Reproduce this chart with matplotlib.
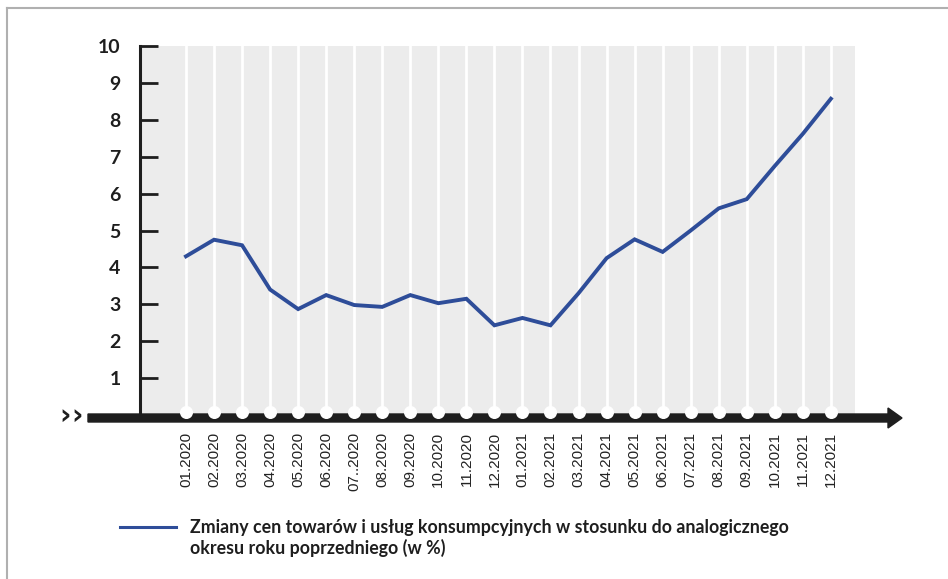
import matplotlib.pyplot as plt
import matplotlib.patches as mpatches
from matplotlib.lines import Line2D

months = ["01.2020", "02.2020", "03.2020", "04.2020", "05.2020", "06.2020",
          "07..2020", "08.2020", "09.2020", "10.2020", "11.2020", "12.2020",
          "01.2021", "02.2021", "03.2021", "04.2021", "05.2021", "06.2021",
          "07.2021", "08.2021", "09.2021", "10.2021", "11.2021", "12.2021"]
cpi = [4.3, 4.75, 4.6, 3.4, 2.87, 3.25, 2.98, 2.93, 3.25, 3.03, 3.15, 2.43,
       2.63, 2.43, 3.3, 4.25, 4.76, 4.42, 5.0, 5.6, 5.85, 6.75, 7.62, 8.57]
yticks = [1, 2, 3, 4, 5, 6, 7, 8, 9, 10]
legend_label = ("Zmiany cen towarów i usług konsumpcyjnych w stosunku do analogicznego\n"
                "okresu roku poprzedniego (w %)")

W, H = 948, 579
fig = plt.figure(figsize=(W / 100, H / 100), dpi=100)
plt.rcParams["font.family"] = ["Lato", "DejaVu Sans"]

ax = fig.add_axes([140 / W, 1 - 415 / H, 715 / W, 369 / H])
ax.set_facecolor("#ececec")
x = list(range(len(months)))
ax.set_xlim(-1.64, 23.86)
ax.set_ylim(0, 10)

# white month gridlines
for xi in x:
    ax.axvline(xi, color="white", lw=2, zorder=1)

ax.plot(x, cpi, color="#2e4d99", lw=2.8, zorder=3, solid_joinstyle="miter")

# thick arrow axis, drawn in figure pixels but owned by the axes
arrow = mpatches.FancyArrow(88 / W, 1 - 418 / H, (888 - 88) / W, 0, width=8 / H,
                            head_width=20 / H, head_length=14 / W,
                            length_includes_head=False, color="#1e1e1e",
                            transform=fig.transFigure, zorder=5, clip_on=False)
ax.add_patch(arrow)
ax.scatter(x, [0.08] * len(x), s=70, color="white", zorder=6, clip_on=False)

for s in ["top", "right", "bottom"]:
    ax.spines[s].set_visible(False)
ax.spines["left"].set_linewidth(2.2)
ax.spines["left"].set_color("#1e1e1e")

ax.set_yticks(yticks)
ax.set_yticklabels([str(t) for t in yticks], fontsize=14, fontweight="bold",
                   color="#1e1e1e")
ax.tick_params(axis="y", direction="in", length=13, width=2, color="#1e1e1e", pad=14)

ax.set_xticks(x)
ax.set_xticklabels(months, rotation=90, fontsize=11, color="#222222",
                   family="Liberation Sans")
ax.tick_params(axis="x", length=0, pad=12)

for cx in (65, 77):
    fig.text(cx / W, 1 - 416 / H, "›", fontsize=20, fontweight="bold",
             family="DejaVu Sans", color="#1e1e1e", ha="center", va="center")

# legend
fig.add_artist(Line2D([120 / W, 176 / W], [1 - 527 / H, 1 - 527 / H],
                      color="#2e4d99", lw=2.2, transform=fig.transFigure))
fig.text(190 / W, 1 - 538 / H, legend_label, fontsize=12.8, fontweight="bold",
         color="#1e1e1e", ha="left", va="center", linespacing=1.2)

# partial frame
fig.add_artist(Line2D([7 / W, 7 / W], [0, 1 - 8 / H], color="#b0b0b0", lw=1.5,
                      transform=fig.transFigure))
fig.add_artist(Line2D([7 / W, 1], [1 - 8 / H, 1 - 8 / H], color="#b0b0b0", lw=1.5,
                      transform=fig.transFigure))

fig.savefig("out.png", dpi=100)
